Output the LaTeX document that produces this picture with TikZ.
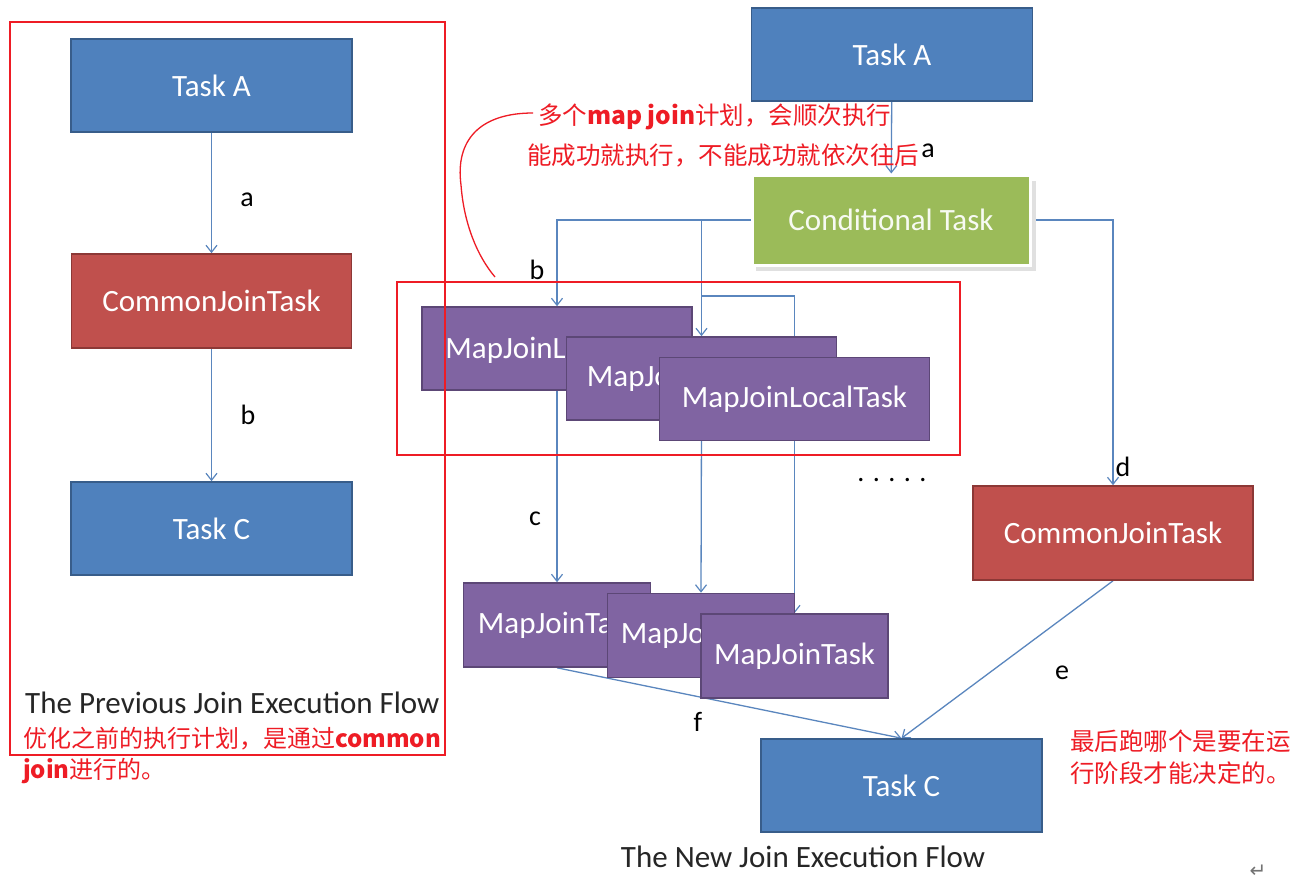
\documentclass[tikz,border=0pt]{standalone}
\usepackage{fontspec}
\setmainfont{Carlito}
\newfontfamily\cjk{Noto Sans CJK SC}
\newfontfamily\dejavu{DejaVu Sans}
\usetikzlibrary{arrows.meta,backgrounds,calc}
\definecolor{tblue}{HTML}{4F81BD}
\definecolor{tblueb}{HTML}{385D8A}
\definecolor{tred}{HTML}{C0504D}
\definecolor{tredb}{HTML}{8C3836}
\definecolor{tpurple}{HTML}{8064A2}
\definecolor{tpurpleb}{HTML}{5C4776}
\definecolor{tgreen}{HTML}{9BBB59}
\definecolor{conn}{HTML}{5A86BE}
\definecolor{annot}{HTML}{EE1C25}
\tikzset{
  box/.style={rectangle, line width=1.6pt, text=white, inner sep=0pt,
    font=\fontsize{31}{36}\selectfont},
  bluebox/.style={box, fill=tblue, draw=tblueb, minimum width=281pt, minimum height=93pt},
  redbox/.style={box, fill=tred, draw=tredb, minimum width=280pt, minimum height=94pt},
  mjbox/.style={box, fill=tpurple, draw=tpurpleb, minimum width=270pt, minimum height=83pt},
  mtbox/.style={box, fill=tpurple, draw=tpurpleb, minimum width=187pt, minimum height=84pt},
  boxtext/.style={text=white, inner sep=0pt, anchor=west, font=\fontsize{31}{36}\selectfont},
  greenbox/.style={box, fill=tgreen, draw=white, line width=3pt, minimum width=278pt, minimum height=90pt, text=white!92!tgreen},
  arr/.style={draw=conn, line width=1.3pt, -{Straight Barb[length=7pt,width=11pt,line width=1.2pt]}},
  lbl/.style={font=\fontsize{28}{32}\selectfont, text=black, inner sep=0pt},
  caption/.style={font=\fontsize{31}{36}\selectfont, text=black!85, inner sep=0pt},
  cn/.style={font=\cjk\fontsize{24.5}{32}\selectfont, text=annot, inner sep=0pt, anchor=west},
  frame/.style={draw=annot, line width=1.6pt},
}
\begin{document}
\begin{tikzpicture}[x=1pt,y=-1pt]
\useasboundingbox (0,0) rectangle (1313,883);

% ---------- left flow ----------
\node[bluebox] (lA) at (211.5,85.5) {Task A};
\node[redbox] (lCJ) at (211.5,301) {CommonJoinTask};
\node[bluebox] (lC) at (211.5,528.5) {Task C};

% ---------- right flow ----------
\node[bluebox] (rA) at (892,54.5) {Task A};
\fill[black!12] (756,181) rectangle (1036,271);
\node[greenbox] (cond) at (891,220) {Conditional Task};

\node[mjbox] (m1) at (557,348.5) {};
\node[mjbox] (m2) at (701.5,378.5) {};
\node[mjbox] (m3) at (794.5,399) {};
\begin{scope}
  \clip (m1.north west) rectangle (m2.west |- m1.south);
  \node[boxtext] (m1t) at ($(m1.west)+(24,2)$) {MapJoinLocalTask};
\end{scope}
\begin{scope}
  \clip (m2.north west) rectangle (m3.west |- m2.south);
  \node[boxtext] (m2t) at ($(m2.west)+(21,0)$) {MapJoinLocalTask};
\end{scope}
\node[boxtext, anchor=center] (m3t) at (m3.center) {MapJoinLocalTask};

\node[mtbox] (t1) at (557,625) {};
\node[mtbox] (t2) at (701,635.5) {};
\node[mtbox] (t3) at (794.5,656) {};
\begin{scope}
  \clip (t1.north west) rectangle (t2.west |- t1.south);
  \node[boxtext] (t1t) at ($(t1.west)+(15,0)$) {MapJoinTask};
\end{scope}
\begin{scope}
  \clip (t2.north west) rectangle (t3.west |- t2.south);
  \node[boxtext] (t2t) at ($(t2.west)+(14,0)$) {MapJoinTask};
\end{scope}
\node[boxtext, anchor=center] (t3t) at (t3.center) {MapJoinTask};

\node[redbox] (rCJ) at (1113,533) {CommonJoinTask};
\node[bluebox] (rC) at (901.5,785.5) {Task C};

% ---------- connectors (behind boxes) ----------
\begin{scope}[on background layer]
\fill[white] (0,0) rectangle (1313,883);
\draw[arr] (lA) -- (lCJ);
\draw[arr] (lCJ) -- (lC);
\draw[arr] (rA) -- (cond);
\draw[arr] (cond.west) -| (m1.north);
\draw[arr] (cond.west -| m2.north) -- (m2.north);
\coordinate (jy) at (0,296);
\draw[arr] (m2.north |- jy) -| (m3.north);
\draw[arr] (cond.east) -| (rCJ.north);
\draw[arr] (m1.south) -- (t1.north);
\draw[arr] (m2.south) -- (t2.north);
\draw[arr] (m3.south) -- (t3.north);
\draw[arr] (t1.south) -- (rC.north);
\draw[arr] (rCJ.south) -- (rC.north);
\end{scope}

% ---------- edge labels ----------
\node[lbl] (la) at (247,200) {a};
\node[lbl] (lb) at (248,415) {b};
\node[lbl] (ra) at (928,151) {a};
\node[lbl] (rb) at (537,270) {b};
\node[lbl] (rc) at (535,519) {c};
\node[lbl] (rd) at (1123,467) {d};
\node[lbl] (re) at (1062,673) {e};
\node[lbl] (rf) at (698,722) {f};
\node[lbl] (dots) at (892,480) {. . . . .};

% ---------- captions ----------
\node[caption, anchor=west] (cap1) at (25,703) {The Previous Join Execution Flow};
\node[caption] (cap2) at (803,857) {The New Join Execution Flow};

% ---------- annotations ----------
\draw[frame] (10,22) rectangle (445,755);
\draw[frame] (397,282) rectangle (960,455);

\node[cn] (n1) at (538,117) {多个{\bfseries map join}计划，会顺次执行};
\node[cn] (n2) at (527,155) {能成功就执行，不能成功就依次往后};
\node[cn, font=\cjk\fontsize{24}{32}\selectfont] (n3) at (23,739) {优化之前的执行计划，是通过{\bfseries common}};
\node[cn, font=\cjk\fontsize{24}{32}\selectfont] (n4) at (23,771) {{\bfseries join}进行的。};
\node[cn] (n5) at (1070,741) {最后跑哪个是要在运};
\node[cn] (n6) at (1070,773) {行阶段才能决定的。};

\coordinate (cs) at (533,113);
\coordinate (cm) at (461,185);
\coordinate (ce) at (495,277);
\draw[annot, line width=1.3pt] (cs) .. controls (480,113) and (455,140) .. (cm)
  .. controls (464,225) and (478,257) .. (ce);

\node[font=\dejavu\fontsize{20}{24}\selectfont, text=black!55] (ret) at (1258,871) {↵};
\end{tikzpicture}
\end{document}
